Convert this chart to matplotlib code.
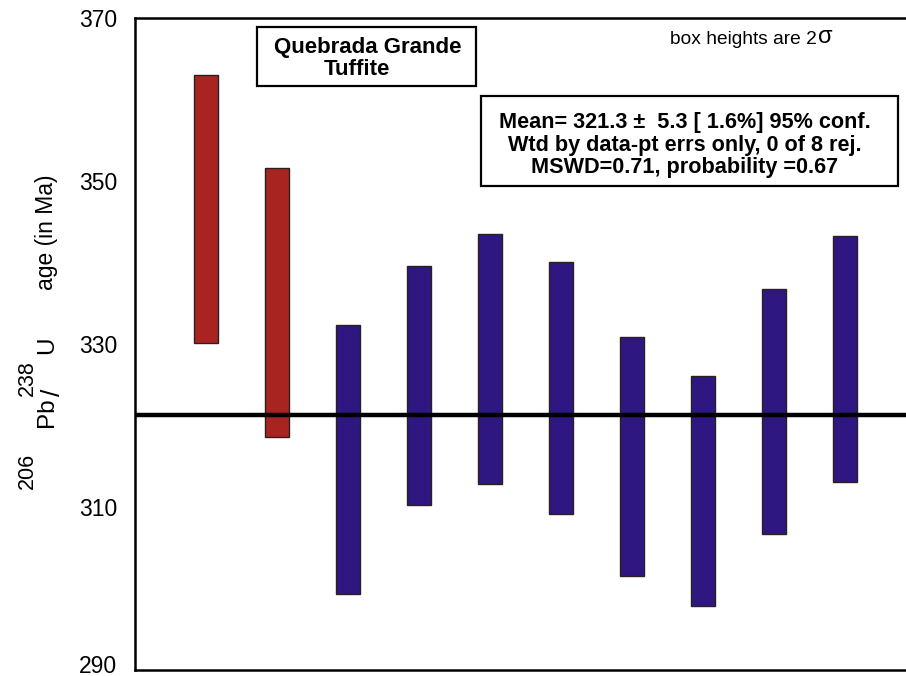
import matplotlib
matplotlib.use("Agg")
import matplotlib.pyplot as plt
import matplotlib.transforms as mtransforms
from matplotlib.patches import Rectangle

plt.rcParams['font.family'] = ['Liberation Sans', 'DejaVu Sans']

# data: upper and lower ends of each 2-sigma box (Ma)
spot = [1, 2, 3, 4, 5, 6, 7, 8, 9, 10]
upper = [363.0, 351.6, 332.3, 339.6, 343.5, 340.1, 330.8, 326.1, 336.7, 343.3]
lower = [330.1, 318.6, 299.3, 310.2, 312.8, 309.1, 301.5, 297.8, 306.7, 313.1]
rejected = [True, True, False, False, False, False, False, False, False, False]
mean_age = 321.3
y_ticks = [290, 310, 330, 350, 370]

W, H = 906, 676
fig = plt.figure(figsize=(W / 100, H / 100), dpi=100)
ax = fig.add_axes([135 / W, 6 / H, 781 / W, 652 / H])

red = '#A82420'
blue = '#2E1780'
colors = [red if r else blue for r in rejected]
heights = [u - l for u, l in zip(upper, lower)]
ax.bar(spot, heights, bottom=lower, width=0.34, color=colors,
       edgecolor='#2a2020', linewidth=1.0, zorder=2)
ax.axhline(mean_age, color='black', linewidth=3.2, zorder=3)

ax.set_xlim(0, 11)
ax.set_ylim(290, 370)
ax.set_yticks(y_ticks)
ax.set_yticklabels([str(t) for t in y_ticks], fontsize=16.5)
ax.tick_params(axis='y', length=0, pad=13)
ax.set_xticks([])
for s in ['left', 'top', 'bottom']:
    ax.spines[s].set_linewidth(1.8)
ax.spines['right'].set_visible(False)

# nudge the bottom tick label up slightly so it stays inside the frame
lab = ax.get_yticklabels()[0]
lab.set_transform(lab.get_transform() +
                  mtransforms.ScaledTranslation(0, 6 / 100, fig.dpi_scale_trans))


def ftxt(x, y, s, size):
    fig.text(x / W, 1 - y / H, s, rotation=90, rotation_mode='anchor',
             ha='center', va='baseline', fontsize=size)

# y-axis label built from pieces (superscripted isotopes)
ftxt(33, 471, '206', 15.5)
ftxt(53, 412, 'Pb', 17.5)
ftxt(60, 392, '/', 19)
ftxt(33, 378, '238', 15.5)
ftxt(53, 345, 'U', 17.5)
ftxt(53, 232, 'age (in Ma)', 16.5)


def px2ax(x, y):
    return ((x - 135) / 781, (670 - y) / 652)

# title box
x0, y0 = px2ax(257, 86)
x1, y1 = px2ax(476, 27)
ax.add_patch(Rectangle((x0, y0), x1 - x0, y1 - y0, transform=ax.transAxes,
                       facecolor='white', edgecolor='black', linewidth=1.6,
                       zorder=4, clip_on=False))
tx, ty = px2ax(368, 48)
ax.text(tx, ty, 'Quebrada Grande', transform=ax.transAxes, ha='center',
        va='center', fontsize=16, fontweight='bold', zorder=5)
tx, ty = px2ax(357, 70)
ax.text(tx, ty, 'Tuffite', transform=ax.transAxes, ha='center',
        va='center', fontsize=16, fontweight='bold', zorder=5)

tx, ty = px2ax(670, 44)
t1 = ax.text(tx, ty, 'box heights are 2', transform=ax.transAxes, ha='left',
             va='baseline', fontsize=13.8, zorder=5)
ax.annotate('σ', xy=(1, 0), xycoords=t1, xytext=(1, 0),
            textcoords='offset points', ha='left', va='bottom',
            fontsize=17, zorder=5)

# stats box
x0, y0 = px2ax(481, 186)
x1, y1 = px2ax(898, 96)
ax.add_patch(Rectangle((x0, y0), x1 - x0, y1 - y0, transform=ax.transAxes,
                       facecolor='white', edgecolor='black', linewidth=1.6,
                       zorder=4, clip_on=False))
lines = ['Mean= 321.3 ±  5.3 [ 1.6%] 95% conf.',
         'Wtd by data-pt errs only, 0 of 8 rej.',
         'MSWD=0.71, probability =0.67']
for yy, s in zip([123, 146, 168], lines):
    tx, ty = px2ax(685, yy)
    ax.text(tx, ty, s, transform=ax.transAxes, ha='center', va='center',
            fontsize=15.6, fontweight='bold', zorder=5)

fig.savefig('out.png', dpi=100, facecolor='white')
